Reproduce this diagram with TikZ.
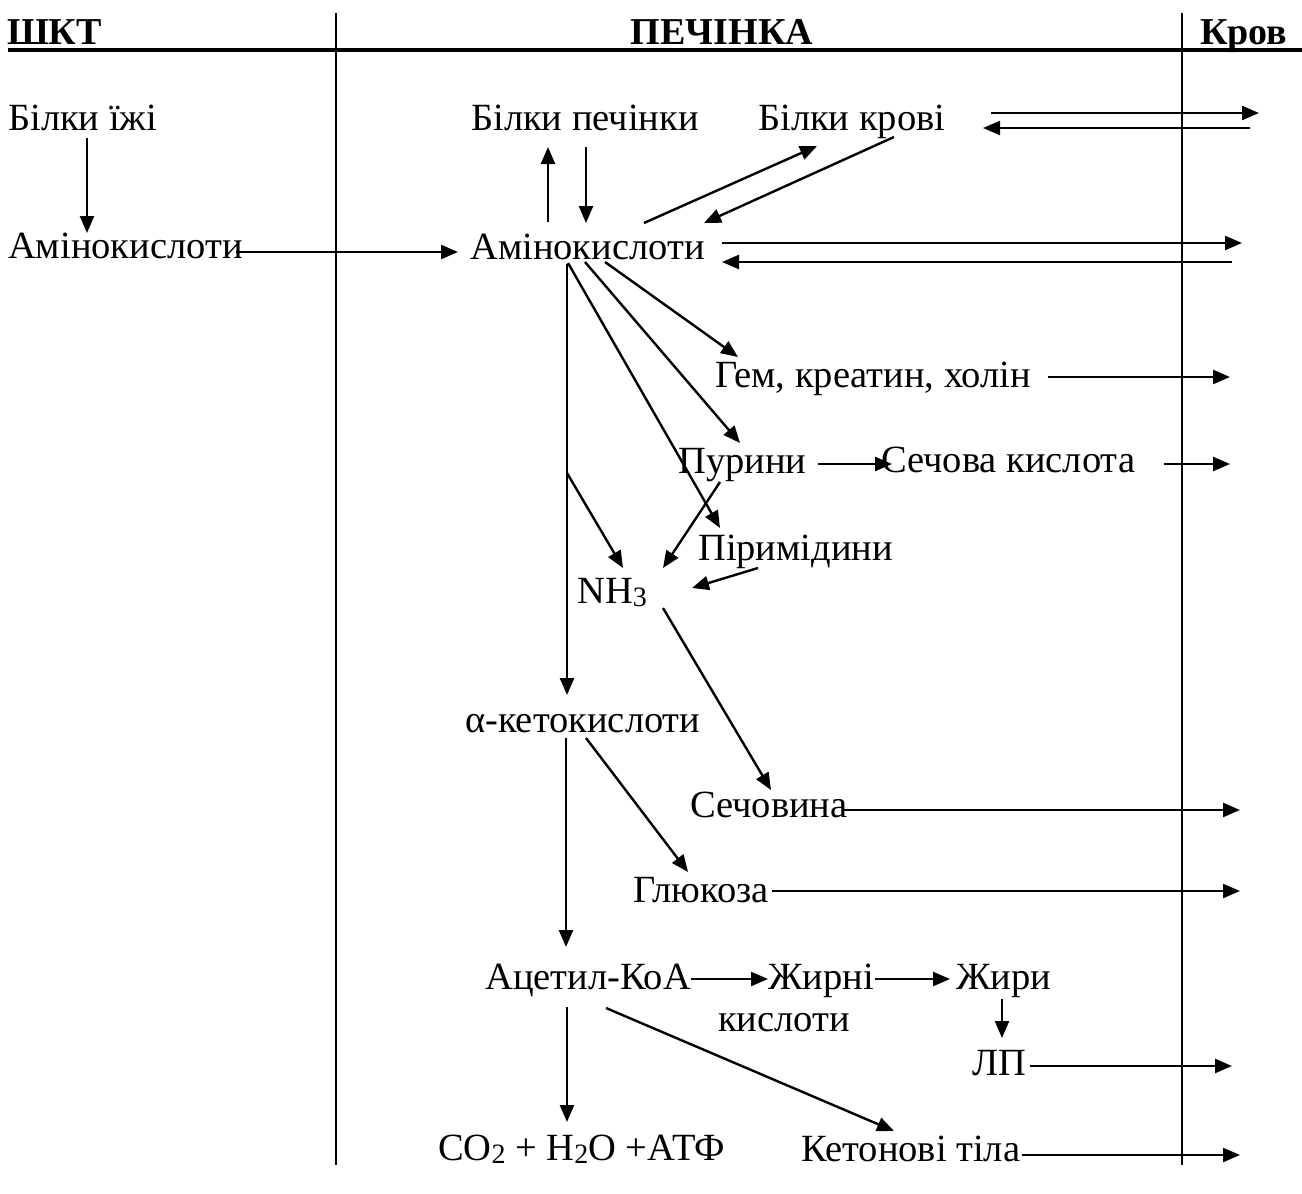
\documentclass[tikz,border=0pt]{standalone}
\usepackage{fontspec}
\setmainfont{Liberation Serif}
\usetikzlibrary{arrows.meta,calc}
% smaller, lowered digit for chemical formulas
\newcommand\chemsub[1]{\raisebox{-3pt}{\fontsize{28}{28}\selectfont #1}}
\begin{document}
\begin{tikzpicture}[x=1pt,y=-1pt,
  lbl/.style={inner sep=0pt,anchor=base west,font=\fontsize{38.5}{44}\selectfont},
  hdr/.style={inner sep=0pt,anchor=base west,font=\fontsize{38}{44}\selectfont\bfseries},
  arr/.style={-{Triangle[length=17pt,width=14pt]},line width=2.4pt},
  divider/.style={line width=1.7pt}]
\fill[white] (0,0) rectangle (1302,1194);
\useasboundingbox (0,0) rectangle (1302,1194);

% column headers
\node[hdr] (h1) at (7,44) {ШКТ};
\node[hdr,anchor=base] (h2) at (722,44) {ПЕЧІНКА};
\node[hdr] (h3) at (1200,44) {Кров};
\draw[line width=4pt] (8,50) -- (1302,50);
\draw[divider] (336,13) -- (336,1165);
\draw[divider] (1182,13) -- (1182,1165);

% substances
\node[lbl] (bi)    at (8,130)   {Білки їжі};
\node[lbl] (aml)   at (8,258)   {Амінокислоти};
\node[lbl] (bp)    at (471,130) {Білки печінки};
\node[lbl] (bk)    at (758,130) {Білки крові};
\node[lbl] (am)    at (470,259) {Амінокислоти};
\node[lbl] (gem)   at (715,387) {Гем, креатин, холін};
\node[lbl] (pur)   at (678,473) {Пурини};
\node[lbl] (sk)    at (881,472) {Сечова кислота};
\node[lbl] (pir)   at (698,560) {Піримідини};
\node[lbl] (nh)    at (577,603) {NH\chemsub{3}};
\node[lbl] (ket)   at (465,732) {α-кетокислоти};
\node[lbl] (sech)  at (690,817) {Сечовина};
\node[lbl] (glu)   at (633,902) {Глюкоза};
\node[lbl] (acet)  at (485,989) {Ацетил-КоА};
\node[lbl] (zh)    at (768,989) {Жирні};
\node[lbl] (zk)    at (718,1031) {кислоти};
\node[lbl] (zhiry) at (956,989) {Жири};
\node[lbl] (lp)    at (972,1075) {ЛП};
\node[lbl] (co)    at (438,1160) {CO\chemsub{2} + H\chemsub{2}O +АТФ};
\node[lbl] (kt)    at (801,1161) {Кетонові тіла};

% free ends in the blood column
\coordinate (r1) at (1259,113);
\coordinate (l1) at (1250,128);
\coordinate (r2) at (1242,243);
\coordinate (l2) at (1232,262);
\coordinate (r3) at (1230,377);
\coordinate (r4) at (1230,464);
\coordinate (r5) at (1240,810);
\coordinate (r6) at (1240,891);
\coordinate (r7) at (1232,1066);
\coordinate (r8) at (1240,1155);

% digestive tract
\draw[arr] ($(bi.base west)+(79,8)$) -- ($(aml.base west)+(79,-25)$);
\draw[arr] ($(aml.base west)+(228,-6)$) -- ($(am.base west)+(-12,-7)$);

% liver proteins and blood proteins
\draw[arr] ($(am.base west)+(78,-37)$) -- ($(bp.base west)+(77,17)$);
\draw[arr] ($(bp.base west)+(115,17)$) -- ($(am.base west)+(116,-36)$);
\draw[arr] ($(am.base west)+(174,-36)$) -- ($(bk.base west)+(59,16)$);
\draw[arr] ($(bk.base west)+(136,7)$) -- ($(am.base west)+(234,-36)$);
\draw[arr] ($(bk.base west)+(233,-17)$) -- (r1);
\draw[arr] (l1) -- ($(bk.base west)+(225,-2)$);
\draw[arr] ($(am.base west)+(252,-16)$) -- (r2);
\draw[arr] (l2) -- ($(am.base west)+(252,3)$);

% amino acid fan
\draw[arr] ($(am.base west)+(135,3)$) -- ($(gem.base west)+(23,-30)$);
\draw[arr] ($(am.base west)+(115,3)$) -- ($(pur.base west)+(62,-30)$);
\draw[arr] ($(am.base west)+(98,4)$) -- ($(pir.base west)+(22,-32)$);
\draw[arr] ($(am.base west)+(97,5)$) -- ($(ket.base west)+(102,-37)$);
\draw[arr] ($(am.base west)+(97,214)$) -- ($(nh.base west)+(46,-35)$);
\draw[arr] ($(gem.base west)+(333,-10)$) -- (r3);
\draw[arr] ($(pur.base west)+(140,-9)$) -- ($(sk.base west)+(11,-8)$);
\draw[arr] ($(sk.base west)+(283,-8)$) -- (r4);
\draw[arr] ($(pur.base west)+(42,9)$) -- ($(nh.base west)+(86,-35)$);
\draw[arr] ($(pir.base west)+(60,8)$) -- ($(nh.base west)+(115,-15)$);

% urea, glucose
\draw[arr] ($(nh.base west)+(86,5)$) -- ($(sech.base west)+(81,-27)$);
\draw[arr] ($(sech.base west)+(153,-7)$) -- (r5);
\draw[arr] ($(ket.base west)+(121,6)$) -- ($(glu.base west)+(55,-30)$);
\draw[arr] ($(glu.base west)+(139,-11)$) -- (r6);

% acetyl-CoA branch
\draw[arr] ($(ket.base west)+(101,6)$) -- ($(acet.base west)+(81,-42)$);
\draw[arr] ($(acet.base west)+(206,-10)$) -- ($(zh.base west)+(0,-10)$);
\draw[arr] ($(zh.base west)+(107,-10)$) -- ($(zhiry.base west)+(-6,-10)$);
\draw[arr] ($(zhiry.base west)+(46,10)$) -- ($(lp.base west)+(30,-37)$);
\draw[arr] ($(lp.base west)+(58,-9)$) -- (r7);
\draw[arr] ($(acet.base west)+(82,18)$) -- ($(co.base west)+(129,-38)$);
\draw[arr] ($(acet.base west)+(121,19)$) -- ($(kt.base west)+(93,-30)$);
\draw[arr] ($(kt.base west)+(221,-6)$) -- (r8);
\end{tikzpicture}
\end{document}
